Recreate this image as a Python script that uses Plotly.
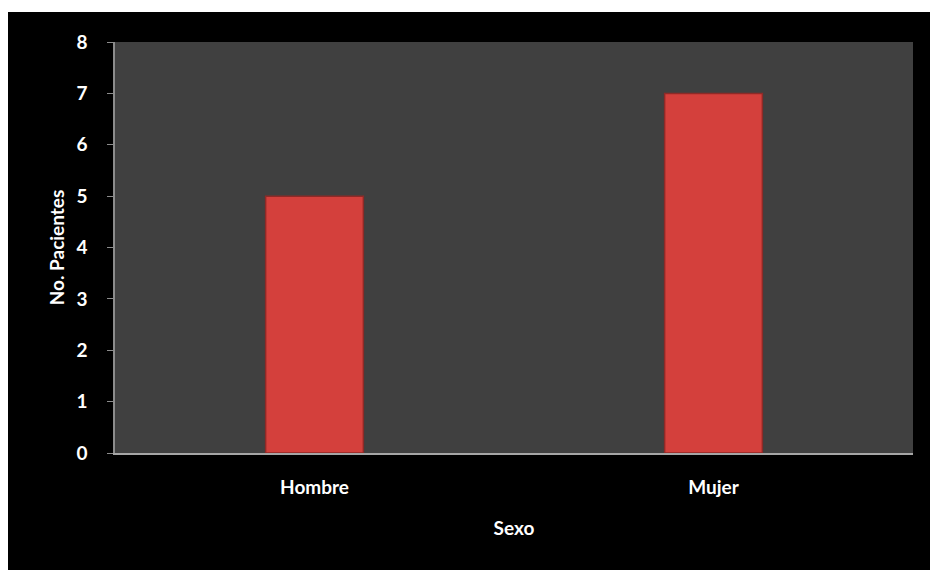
import plotly.graph_objects as go

categories = ["Hombre", "Mujer"]
values = [5, 7]
y_ticks = [0, 1, 2, 3, 4, 5, 6, 7, 8]

W, H = 930, 570
L, R, T, B = 115, 17, 42, 117
pw, ph = W - L - R, H - T - B

def px_x(p):
    return (p - L) / pw

def px_y(p):
    return (H - B - p) / ph

fig = go.Figure()
fig.add_trace(go.Bar(
    x=categories, y=values, width=0.245,
    marker=dict(color="#d4403c", line=dict(color="#8e2a27", width=1.5)),
    hoverinfo="x+y",
))

fam = "Lato"
bold18 = dict(family=fam, size=19, color="#ffffff", weight="bold")
fig.update_layout(
    width=W, height=H,
    margin=dict(l=L, r=R, t=T, b=B),
    paper_bgcolor="#000000",
    plot_bgcolor="#404040",
    showlegend=False,
    font=dict(family=fam, color="#ffffff", size=18),
    xaxis=dict(
        showgrid=False, showline=True, linecolor="#a6a6a6", linewidth=2,
        ticks="", tickfont=bold18, ticklabelstandoff=16,
        title=dict(text="Sexo", font=bold18, standoff=25),
    ),
    yaxis=dict(
        range=[0, 8], tickvals=y_ticks, showgrid=False, zeroline=False,
        showline=True, linecolor="#8c8c8c", linewidth=1.5,
        ticks="outside", ticklen=6, tickcolor="#8c8c8c",
        tickfont=bold18, ticklabelstandoff=16,
        title=dict(text="No. Pacientes", font=bold18, standoff=7),
    ),
    shapes=[
        dict(type="rect", xref="paper", yref="paper",
             x0=px_x(0), x1=px_x(W), y0=px_y(12), y1=px_y(0),
             fillcolor="#ffffff", line=dict(width=0), layer="above"),
        dict(type="rect", xref="paper", yref="paper",
             x0=px_x(0), x1=px_x(8), y0=px_y(H), y1=px_y(0),
             fillcolor="#ffffff", line=dict(width=0), layer="above"),
    ],
)
fig.write_html("out.html")
